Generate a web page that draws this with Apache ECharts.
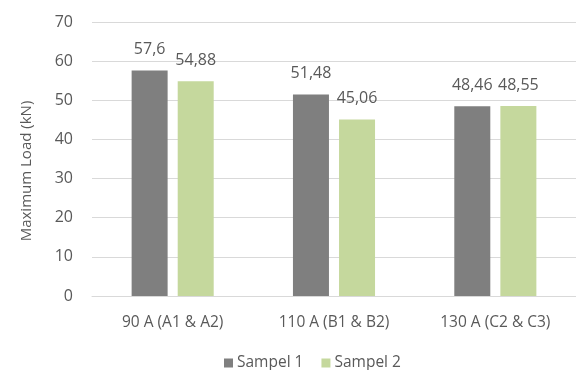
<!DOCTYPE html>
<html>
<head>
<meta charset="utf-8">
<script src="https://cdn.jsdelivr.net/npm/echarts@6/dist/echarts.min.js"></script>
<style>
  html, body { margin: 0; padding: 0; background: #ffffff; }
  #chart { width: 576px; height: 370px; }
</style>
</head>
<body>
<div id="chart"></div>
<script>
// Welding current groups and the two measured samples
const categories = ['90 A (A1 & A2)', '110 A (B1 & B2)', '130 A (C2 & C3)'];
const sampel1 = [57.6, 51.48, 48.46];
const sampel2 = [54.88, 45.06, 48.55];
const yTicks = { min: 0, max: 70, interval: 10 };
const yTitle = 'Maximum Load (kN)';

const FONT = '"Open Sans", "Noto Sans", sans-serif';
const TEXT = '#595959';

const decimalComma = v => String(v).replace('.', ',');

const chart = echarts.init(document.getElementById('chart'), null, { renderer: 'canvas' });

const barLabel = {
  show: true,
  position: 'top',
  distance: 13,
  color: TEXT,
  fontFamily: FONT,
  fontSize: 16,
  formatter: p => decimalComma(p.value)
};

chart.setOption({
  animation: false,
  backgroundColor: '#ffffff',
  textStyle: { fontFamily: FONT },
  grid: { left: 92, right: -4, top: 22, bottom: 74, containLabel: false },
  // vertical axis title, sitting slightly below the plot's middle
  graphic: [{
    type: 'text',
    x: 27,
    y: 171,
    rotation: Math.PI / 2,
    style: {
      text: yTitle,
      fill: TEXT,
      font: '15px ' + FONT,
      align: 'center',
      verticalAlign: 'middle'
    }
  }],
  legend: {
    top: 350,
    left: 219,
    itemWidth: 9,
    itemHeight: 9,
    itemGap: 18,
    icon: 'rect',
    textStyle: { color: TEXT, fontFamily: FONT, fontSize: 15.5, padding: [0, 0, 0, -1] },
    data: ['Sampel 1', 'Sampel 2']
  },
  xAxis: {
    type: 'category',
    data: categories,
    axisLine: { show: true, lineStyle: { color: '#d9d9d9', width: 1 } },
    axisTick: { show: false },
    axisLabel: { color: TEXT, fontFamily: FONT, fontSize: 15.5, margin: 19 }
  },
  yAxis: {
    type: 'value',
    min: yTicks.min,
    max: yTicks.max,
    interval: yTicks.interval,
    axisLine: { show: false },
    axisTick: { show: false },
    axisLabel: { color: TEXT, fontFamily: FONT, fontSize: 16, margin: 19 },
    splitLine: { lineStyle: { color: '#d9d9d9', width: 1 } }
  },
  series: [
    {
      name: 'Sampel 1',
      type: 'bar',
      data: sampel1,
      barWidth: 36,
      barGap: '28%',
      itemStyle: { color: '#7f7f7f' },
      label: barLabel
    },
    {
      name: 'Sampel 2',
      type: 'bar',
      data: sampel2,
      barWidth: 36,
      barGap: '28%',
      itemStyle: { color: '#c5d89d' },
      label: barLabel
    }
  ]
});
</script>
</body>
</html>
